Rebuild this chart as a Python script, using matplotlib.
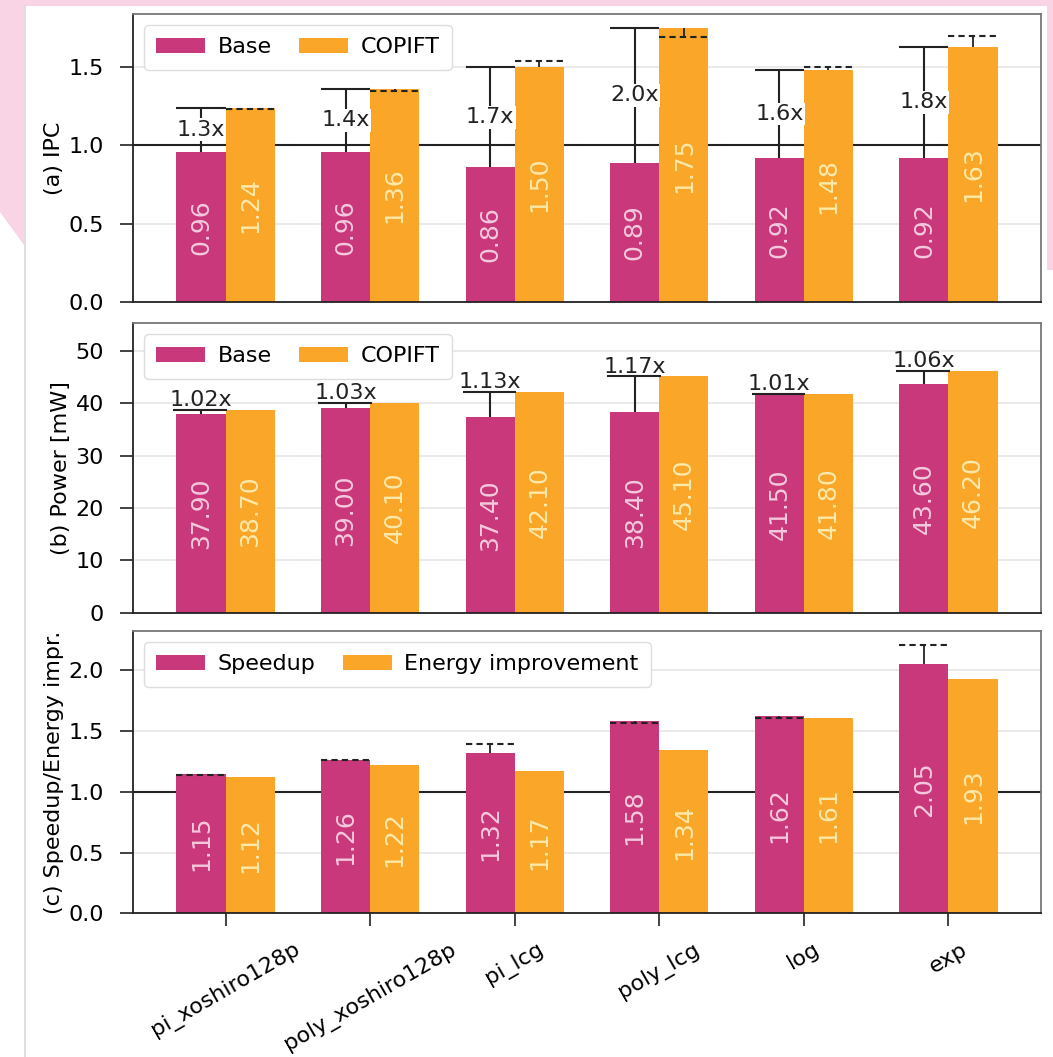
import matplotlib
matplotlib.use("Agg")
import matplotlib.pyplot as plt
from matplotlib.patches import Polygon
import numpy as np

benchmarks = ['pi_xoshiro128p', 'poly_xoshiro128p', 'pi_lcg', 'poly_lcg', 'log', 'exp']
ipc_base = [0.96, 0.96, 0.86, 0.89, 0.92, 0.92]
ipc_copift = [1.24, 1.36, 1.50, 1.75, 1.48, 1.63]
ipc_ideal = [1.23, 1.35, 1.54, 1.69, 1.50, 1.70]
power_base = [37.90, 39.00, 37.40, 38.40, 41.50, 43.60]
power_copift = [38.70, 40.10, 42.10, 45.10, 41.80, 46.20]
speedup = [1.15, 1.26, 1.32, 1.58, 1.62, 2.05]
speedup_ideal = [1.14, 1.26, 1.39, 1.57, 1.61, 2.21]
energy_impr = [1.12, 1.22, 1.17, 1.34, 1.61, 1.93]

C_BASE = '#c8387b'
C_COP = '#f9a629'
T_BASE = '#f4c9dd'
T_COP = '#fde9a9'
FS = 16
FS_BAR = 18

W, H = 1053, 1057
fig = plt.figure(figsize=(W / 100, H / 100), dpi=100)
fig.patch.set_facecolor('white')

# pink page decoration
pink = '#f8d4e4'
def fx(x): return x / W
def fy(y): return 1 - y / H
fig.patches.append(Polygon([(fx(0), fy(0)), (fx(W), fy(0)), (fx(W), fy(6)), (fx(0), fy(6))],
                           closed=True, transform=fig.transFigure, facecolor=pink, edgecolor='none', zorder=-5))
fig.patches.append(Polygon([(fx(0), fy(0)), (fx(24), fy(0)), (fx(24), fy(245)), (fx(0), fy(212))],
                           closed=True, transform=fig.transFigure, facecolor=pink, edgecolor='none', zorder=-5))
fig.patches.append(Polygon([(fx(1047), fy(0)), (fx(W), fy(0)), (fx(W), fy(270)), (fx(1047), fy(270))],
                           closed=True, transform=fig.transFigure, facecolor=pink, edgecolor='none', zorder=-5))
fig.lines.append(plt.Line2D([fx(24.5), fx(24.5)], [fy(6), fy(H)], transform=fig.transFigure,
                            color='#d8d8d8', lw=1.2, zorder=-4))

left, width = 133 / W, (1041 - 133) / W
ax_a = fig.add_axes([left, 1 - 301.7 / H, width, (301.7 - 14) / H])
ax_b = fig.add_axes([left, 1 - 612.7 / H, width, (612.7 - 323) / H])
ax_c = fig.add_axes([left, 1 - 913.3 / H, width, (913.3 - 631) / H])

x = np.arange(len(benchmarks))
bw = 0.34
xb = x - bw / 2
xc = x + bw / 2

def style(ax, ylim, yticks, ylabel):
    ax.set_xlim(-0.64, 5.64)
    ax.set_ylim(*ylim)
    ax.set_yticks(yticks)
    ax.set_ylabel(ylabel, fontsize=FS, labelpad=3)
    ax.yaxis.grid(True, color='#e6e6e6', lw=1.2, zorder=0)
    ax.set_axisbelow(True)
    ax.tick_params(axis='y', labelsize=FS, length=9.5, width=1.2, color='#222', pad=11.5)
    ax.tick_params(axis='x', labelsize=FS, length=9.5, width=1.2, color='#222', pad=9)
    for s in ['left', 'bottom']:
        ax.spines[s].set_color('#222')
        ax.spines[s].set_linewidth(1.3)
    for s in ['top', 'right']:
        ax.spines[s].set_color('#777')
        ax.spines[s].set_linewidth(1.3)

def bar_labels(ax, xs, vals, fmt, color):
    for xi, v in zip(xs, vals):
        ax.text(xi, v / 2, fmt.format(v), rotation=90, ha='center', va='center',
                fontsize=FS_BAR, color=color, zorder=5)

def legend(ax):
    ax.legend(ncol=2, loc='upper left', fontsize=FS, frameon=True, fancybox=True,
              edgecolor='#dddddd', framealpha=1, handlelength=2.2, handletextpad=0.55,
              columnspacing=1.25, borderpad=0.55, borderaxespad=0.5)

# (a) IPC
style(ax_a, (0, 1.84), [0, 0.5, 1.0, 1.5], '(a) IPC')
ax_a.axhline(1.0, color='#222', lw=1.5, zorder=1)
ax_a.bar(xb, ipc_base, bw, color=C_BASE, label='Base', zorder=2)
ax_a.bar(xc, ipc_copift, bw, color=C_COP, label='COPIFT', zorder=2)
bar_labels(ax_a, xb, ipc_base, '{:.2f}', T_BASE)
bar_labels(ax_a, xc, ipc_copift, '{:.2f}', T_COP)
ax_a.vlines(xb, ipc_base, ipc_copift, color='#222', lw=1.5, zorder=3)
ax_a.hlines(ipc_copift, xb - bw / 2, xb + bw / 2, color='#222', lw=1.5, zorder=3)
ax_a.vlines(xc, ipc_copift, ipc_ideal, color='#222', lw=1.3, zorder=3)
ax_a.hlines(ipc_ideal, xc - bw / 2, xc + bw / 2, color='#222', lw=1.5, linestyles=(0, (3, 2)), zorder=3)
for xi, b, c in zip(xb, ipc_base, ipc_copift):
    ax_a.text(xi, (b + c) / 2, '{:.1f}x'.format(c / b), ha='center', va='center', fontsize=FS,
              color='#222', zorder=4, bbox=dict(facecolor='white', edgecolor='none', pad=1.0))
legend(ax_a)
ax_a.set_xticks(x)
ax_a.tick_params(axis='x', bottom=False, labelbottom=False)

# (b) Power
style(ax_b, (0, 55.3), [0, 10, 20, 30, 40, 50], '(b) Power [mW]')
ax_b.bar(xb, power_base, bw, color=C_BASE, label='Base', zorder=2)
ax_b.bar(xc, power_copift, bw, color=C_COP, label='COPIFT', zorder=2)
bar_labels(ax_b, xb, power_base, '{:.2f}', T_BASE)
bar_labels(ax_b, xc, power_copift, '{:.2f}', T_COP)
ax_b.vlines(xb, power_base, power_copift, color='#222', lw=1.5, zorder=3)
ax_b.hlines(power_copift, xb - bw / 2 - 0.02, xb + bw / 2 + 0.01, color='#222', lw=1.5, zorder=3)
for xi, b, c in zip(xb, power_base, power_copift):
    ax_b.text(xi, c + 0.7, '{:.2f}x'.format(c / b), ha='center', va='baseline', fontsize=FS,
              color='#222', zorder=4)
legend(ax_b)
ax_b.set_xticks(x)
ax_b.tick_params(axis='x', bottom=False, labelbottom=False)

# (c) Speedup / energy
style(ax_c, (0, 2.323), [0, 0.5, 1.0, 1.5, 2.0], '(c) Speedup/Energy impr.')
ax_c.axhline(1.0, color='#222', lw=1.5, zorder=1)
ax_c.bar(xb, speedup, bw, color=C_BASE, label='Speedup', zorder=2)
ax_c.bar(xc, energy_impr, bw, color=C_COP, label='Energy improvement', zorder=2)
bar_labels(ax_c, xb, speedup, '{:.2f}', T_BASE)
bar_labels(ax_c, xc, energy_impr, '{:.2f}', T_COP)
ax_c.vlines(xb, speedup, speedup_ideal, color='#222', lw=1.3, zorder=3)
ax_c.hlines(speedup_ideal, xb - bw / 2, xb + bw / 2, color='#222', lw=1.5, linestyles=(0, (3, 2)), zorder=3)
legend(ax_c)
ax_c.set_xticks(x)
ax_c.set_xticklabels(benchmarks, rotation=30, ha='center')

fig.savefig('out.png', dpi=100, facecolor=fig.get_facecolor())
